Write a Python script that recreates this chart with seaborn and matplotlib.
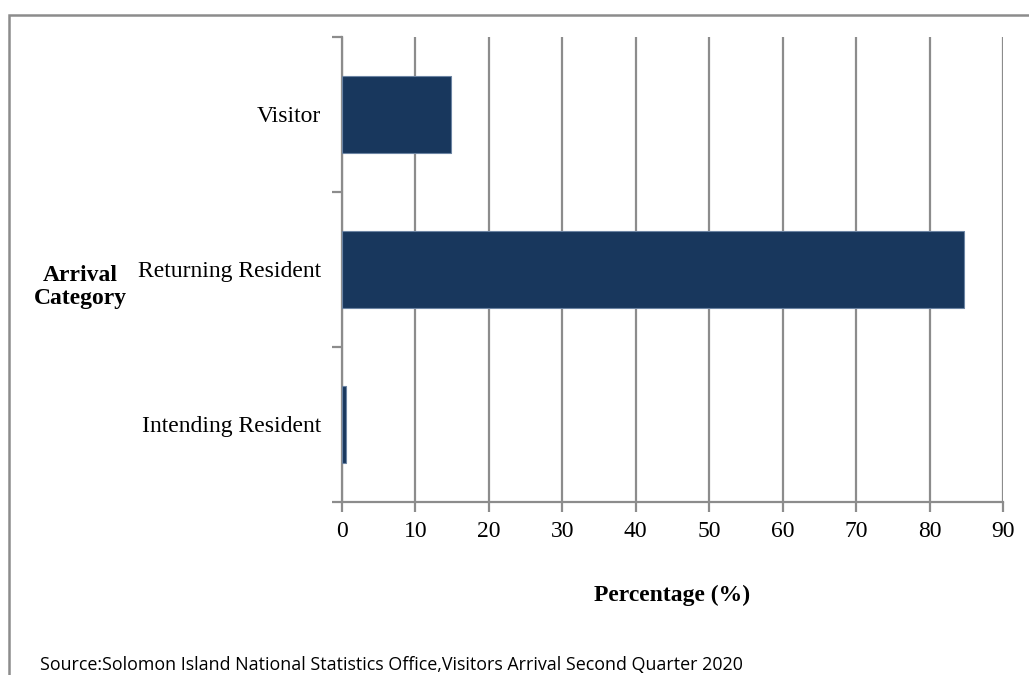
import pandas as pd
import numpy as np
import seaborn as sns
import matplotlib.pyplot as plt
from matplotlib.patches import Rectangle

categories = ['Visitor', 'Returning Resident', 'Intending Resident']
percentages = [14.8, 84.7, 0.5]
xticks = [0, 10, 20, 30, 40, 50, 60, 70, 80, 90]

df = pd.DataFrame({'Category': categories, 'Percentage': percentages})

sns.set_style('white')
plt.rcParams['font.family'] = ['Liberation Serif', 'DejaVu Serif']
plt.rcParams['text.color'] = 'black'
plt.rcParams['axes.labelcolor'] = 'black'

fig = plt.figure(figsize=(10.29, 6.75), dpi=100)
ax = fig.add_axes([0.3324, 0.2563, 0.6423, 0.6889])

sns.barplot(data=df, x='Percentage', y='Category', order=categories, orient='h',
            color='#18375d', saturation=1, width=0.5,
            edgecolor='#6c84a3', linewidth=0.8, ax=ax, zorder=3)

grid = '#8c8c8c'
fs = 17
ax.set_xlim(0, 90)
ax.set_xticks(xticks)
ax.set_ylim(2.5, -0.5)
ax.xaxis.grid(True, color=grid, linewidth=1.6, zorder=0)
ax.yaxis.grid(False)
for s in ['top', 'right']:
    ax.spines[s].set_visible(False)
for s in ['left', 'bottom']:
    ax.spines[s].set_color(grid)
    ax.spines[s].set_linewidth(1.6)

# category labels in the middle, tick marks on the boundaries
ax.set_yticks([0, 1, 2])
ax.set_yticklabels(categories)
ax.set_yticks([-0.5, 0.5, 1.5, 2.5], minor=True)
ax.tick_params(axis='y', which='major', length=0, pad=15, labelsize=fs, labelcolor='black')
ax.tick_params(axis='y', which='minor', length=7, width=1.6, color=grid, direction='out', left=True)
ax.tick_params(axis='x', length=7, width=1.6, color=grid, direction='out', bottom=True,
               pad=7, labelsize=fs, labelcolor='black')

ax.set_xlabel('Percentage (%)', fontsize=fs, fontweight='bold', labelpad=10, color='black')
ax.xaxis.set_label_coords(0.5, -0.2)
ax.xaxis.label.set_va('center')
ax.set_ylabel('')
fig.text(0.078, 0.575, 'Arrival\nCategory', ha='center', va='center',
         fontsize=fs, fontweight='bold', linespacing=1.1, color='black')

fig.text(0.039, 0.015, 'Source:Solomon Island National Statistics Office,Visitors Arrival Second Quarter 2020',
         ha='left', va='center', fontsize=12.85, color='black', family=['Open Sans', 'DejaVu Sans'])

# outer frame (only left and top edges visible in the crop)
fig.patches.append(Rectangle((0.0087, -0.05), 1.1, 1.0278, transform=fig.transFigure,
                             fill=False, edgecolor='#8c8c8c', linewidth=1.8))

fig.savefig('out.png', dpi=100)
